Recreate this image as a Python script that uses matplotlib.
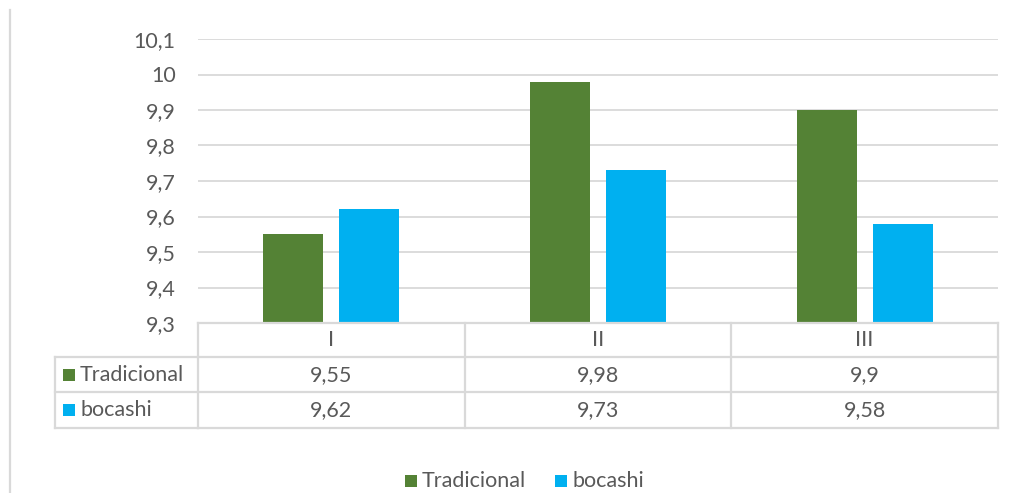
import matplotlib
matplotlib.use("Agg")
import matplotlib.pyplot as plt
from matplotlib import transforms
from matplotlib.lines import Line2D
from matplotlib.patches import Rectangle

categories = ["I", "II", "III"]
series_names = ["Tradicional", "bocashi"]
tradicional = [9.55, 9.98, 9.9]
bocashi = [9.62, 9.73, 9.58]
value_labels = {
    "Tradicional": ["9,55", "9,98", "9,9"],
    "bocashi": ["9,62", "9,73", "9,58"],
}
y_ticks = [9.3, 9.4, 9.5, 9.6, 9.7, 9.8, 9.9, 10.0, 10.1]
y_tick_labels = ["9,3", "9,4", "9,5", "9,6", "9,7", "9,8", "9,9", "10", "10,1"]

GREEN = "#548235"
BLUE = "#00b0f0"
GRID = "#d9d9d9"
TEXT = "#595959"
FONT = "Lato"
FS = 15.5

W, H = 1014, 493
fig = plt.figure(figsize=(W / 100, H / 100), dpi=100)


def fx(px):
    return px / W


def fy(py):
    return 1 - py / H


ax = fig.add_axes([fx(198), fy(323), fx(998) - fx(198), fy(39) - fy(323)])

x = list(range(len(categories)))
bw = 0.225
gap = 0.06
off = (bw + gap) / 2
ax.bar([i - off for i in x], [v - 9.3 for v in tradicional], bottom=9.3,
       width=bw, color=GREEN, zorder=3)
ax.bar([i + off for i in x], [v - 9.3 for v in bocashi], bottom=9.3,
       width=bw, color=BLUE, zorder=3)

ax.set_xlim(-0.5, len(categories) - 0.5)
ax.set_ylim(9.3, 10.1)
ax.set_yticks(y_ticks)
ax.set_yticklabels(y_tick_labels, fontname=FONT, fontsize=FS, color=TEXT)
ax.set_xticks([])
ax.tick_params(axis="y", length=0, pad=16)
ax.yaxis.grid(True, color=GRID, linewidth=1.3, zorder=0)
for s in ax.spines.values():
    s.set_visible(False)

# Data table under the plot, columns aligned with the categories
tr = transforms.blended_transform_factory(ax.transData, fig.transFigure)
x_left = -0.5
x_right = len(categories) - 0.5
lw = 1.6

# horizontal rules
fig.add_artist(Line2D([x_left, x_right], [fy(323), fy(323)], transform=tr,
                      color=GRID, lw=lw))
for yy in (357, 392, 428):
    fig.add_artist(Line2D([fx(55), fx(198)], [fy(yy), fy(yy)],
                          transform=fig.transFigure, color=GRID, lw=lw))
    fig.add_artist(Line2D([x_left, x_right], [fy(yy), fy(yy)], transform=tr,
                          color=GRID, lw=lw))
# vertical rules
for b in [x_left + k for k in range(len(categories) + 1)]:
    fig.add_artist(Line2D([b, b], [fy(323), fy(428)], transform=tr,
                          color=GRID, lw=lw))
fig.add_artist(Line2D([fx(55), fx(55)], [fy(357), fy(428)],
                      transform=fig.transFigure, color=GRID, lw=lw))

# header row
for i, c in enumerate(categories):
    fig.text(i, fy(340), c, transform=tr, ha="center", va="center",
             fontname=FONT, fontsize=FS, color=TEXT)

# value rows
for name, color, row_y in ((series_names[0], GREEN, 375),
                           (series_names[1], BLUE, 410)):
    fig.add_artist(Rectangle((fx(63), fy(row_y + 6)), fx(12), fy(0) - fy(12),
                             transform=fig.transFigure, color=color, lw=0))
    fig.text(fx(80), fy(row_y), name, ha="left", va="center",
             fontname=FONT, fontsize=FS, color=TEXT)
    for i, lab in enumerate(value_labels[name]):
        fig.text(i, fy(row_y), lab, transform=tr, ha="center", va="center",
                 fontname=FONT, fontsize=FS, color=TEXT)

# legend
for name, color, x0 in ((series_names[0], GREEN, 405),
                        (series_names[1], BLUE, 555)):
    fig.add_artist(Rectangle((fx(x0), fy(487)), fx(12), fy(0) - fy(12),
                             transform=fig.transFigure, color=color, lw=0))
    fig.text(fx(x0 + 17), fy(481), name, ha="left", va="center",
             fontname=FONT, fontsize=FS, color=TEXT)

# outer frame line on the left
fig.add_artist(Line2D([fx(10), fx(10)], [fy(10), fy(493)],
                      transform=fig.transFigure, color=GRID, lw=1.6))

fig.savefig("out.png", dpi=100)
